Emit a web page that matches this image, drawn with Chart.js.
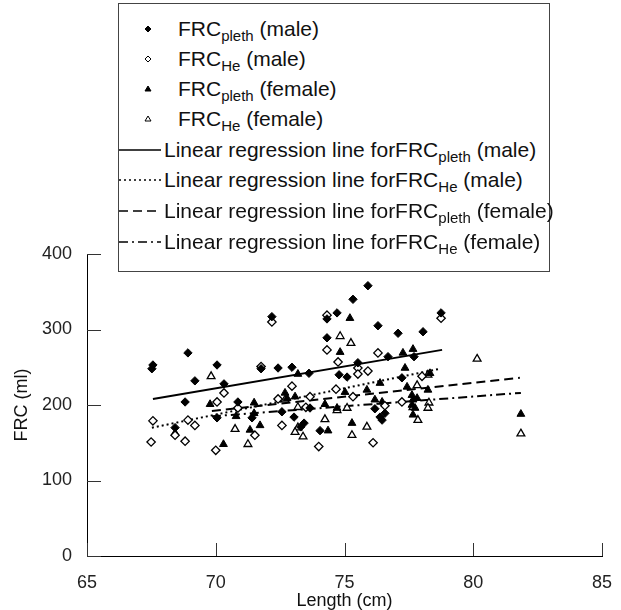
<!DOCTYPE html>
<html>
<head>
<meta charset="utf-8">
<script src="https://cdn.jsdelivr.net/npm/chart.js@4/dist/chart.umd.min.js"></script>
<style>
	html, body { margin: 0; padding: 0; background: #fff; }
	#wrap { position: relative; width: 621px; height: 610px; }
	#legend {
		position: absolute; left: 118px; top: 3px; width: 430px; height: 267px;
		border: 1px solid #444; background: #fff; color: #111;
		font-family: "Liberation Sans", Arial, sans-serif; font-size: 21px;
	}
	.row { position: absolute; left: 0; height: 24px; line-height: 24px; white-space: nowrap; }
	.row svg { position: absolute; left: 0; top: 2px; }
	.row span { position: absolute; top: 0; }
	sub { font-size: 15px; vertical-align: -5px; line-height: 0; }
</style>
</head>
<body>
<div id="wrap">
	<canvas id="chart" width="621" height="610"></canvas>
	<div id="legend"></div>
</div>
<script>
// --- data (length in cm, FRC in ml) -------------------------------------------

const malePlethLen = [67.56, 67.52, 68.92, 70.05, 69.19, 70.32, 68.81, 70.05, 70.86, 71.41,
	71.76, 72.18, 72.42, 72.96, 73.62, 72.57, 74.32, 74.71, 75.33, 75.91,
	76.30, 77.08, 78.05, 78.75, 74.32, 74.79, 75.10, 75.52, 76.69, 77.70,
	73.04, 73.43, 73.66, 74.05, 76.18, 76.38, 76.57, 76.46, 77.23, 68.42, 73.30];
const malePlethFrc = [253, 248, 269, 253, 232, 228, 204, 183, 204, 183,
	248, 317, 249, 250, 242, 191, 314, 322, 340, 358,
	305, 295, 297, 322, 289, 240, 237, 256, 264, 264,
	184, 176, 196, 166, 195, 184, 189, 180, 236, 170, 171];

const maleHeLen = [67.56, 67.49, 68.92, 69.19, 68.42, 68.81, 70.32, 70.05, 70.86, 71.52,
	72.57, 71.76, 72.42, 72.18, 74.32, 74.32, 76.30, 72.96, 73.66, 74.75,
	75.52, 75.52, 75.91, 74.67, 75.33, 73.50, 76.57, 77.23, 76.11, 78.01,
	78.75, 70.00, 74.00];
const maleHeFrc = [179, 151, 180, 173, 160, 152, 216, 204, 196, 160,
	173, 251, 208, 310, 319, 273, 269, 225, 211, 257,
	249, 241, 245, 221, 211, 197, 199, 204, 150, 238,
	315, 140, 145];

const femPlethLen = [69.78, 71.49, 70.79, 71.49, 71.72, 68.42, 75.21, 74.83, 77.27, 77.66,
	73.19, 75.02, 75.87, 76.38, 77.35, 77.43, 76.18, 76.46, 74.24, 74.71,
	77.62, 77.66, 77.82, 77.62, 77.74, 77.66, 75.29, 74.36, 72.77, 73.08,
	71.33, 72.69, 70.30, 78.32, 78.24, 81.85];
const femPlethFrc = [201, 203, 185, 189, 173, 163, 315, 270, 269, 274,
	241, 217, 220, 229, 249, 224, 207, 204, 201, 196,
	213, 207, 209, 200, 196, 187, 176, 166, 209, 211,
	167, 216, 148, 242, 220, 188];

const femHeLen = [69.82, 74.83, 75.25, 70.75, 72.69, 71.25, 73.19, 74.24, 73.19, 73.08,
	73.39, 75.29, 75.87, 74.71, 75.10, 77.82, 77.66, 77.85, 78.24, 78.28,
	78.24, 80.15, 81.85];
const femHeFrc = [238, 291, 282, 168, 207, 148, 197, 181, 170, 164,
	158, 160, 171, 193, 196, 226, 197, 180, 240, 203,
	196, 261, 162];

// regression lines: [start, end]
const regPlethMaleLen = [67.56, 78.79], regPlethMaleFrc = [208, 273];
const regHeMaleLen    = [67.52, 78.71], regHeMaleFrc    = [170, 248];
const regPlethFemLen  = [69.85, 81.81], regPlethFemFrc  = [192, 236];
const regHeFemLen     = [69.85, 81.85], regHeFemFrc     = [185, 216];

const xTicks = [65, 70, 75, 80, 85];
const yTicks = [0, 100, 200, 300, 400];

// --- helpers -----------------------------------------------------------------

function pts(xs, ys) { return xs.map((x, i) => ({ x, y: ys[i] })); }

function scatterSet(label, xs, ys, style, filled) {
	return {
		label, data: pts(xs, ys), pointStyle: style,
		pointRadius: style === 'triangle' ? 4.5 : 4.2,
		pointBackgroundColor: filled ? '#000' : '#fff',
		pointBorderColor: '#000', pointBorderWidth: filled ? 1 : 1.3,
		showLine: false, order: 1
	};
}

function lineSet(label, xs, ys, dash) {
	return {
		label, data: pts(xs, ys), showLine: true, pointRadius: 0,
		borderColor: '#000', borderWidth: 2, borderDash: dash, fill: false, order: 2
	};
}

// tick marks pointing into the plot area
const innerTicks = {
	id: 'innerTicks',
	beforeDatasetsDraw(chart) {
		const { ctx, chartArea: a } = chart;
		const x = chart.scales.x, y = chart.scales.y;
		ctx.save();
		ctx.strokeStyle = '#333';
		ctx.lineWidth = 1;
		ctx.beginPath();
		x.ticks.forEach(t => {
			const px = Math.round(x.getPixelForValue(t.value)) + 0.5;
			ctx.moveTo(px, a.bottom); ctx.lineTo(px, a.bottom - 13);
		});
		y.ticks.forEach(t => {
			const py = Math.round(y.getPixelForValue(t.value)) + 0.5;
			ctx.moveTo(a.left, py); ctx.lineTo(a.left + 14, py);
		});
		ctx.stroke();
		ctx.restore();
	}
};

Chart.defaults.font.family = '"Liberation Sans", Arial, sans-serif';
Chart.defaults.color = '#111';

new Chart(document.getElementById('chart'), {
	type: 'scatter',
	data: {
		datasets: [
			scatterSet('FRC pleth (male)', malePlethLen, malePlethFrc, 'rectRot', true),
			scatterSet('FRC He (male)', maleHeLen, maleHeFrc, 'rectRot', false),
			scatterSet('FRC pleth (female)', femPlethLen, femPlethFrc, 'triangle', true),
			scatterSet('FRC He (female)', femHeLen, femHeFrc, 'triangle', false),
			lineSet('Linear regression line forFRC pleth (male)', regPlethMaleLen, regPlethMaleFrc, []),
			lineSet('Linear regression line forFRC He (male)', regHeMaleLen, regHeMaleFrc, [2, 3]),
			lineSet('Linear regression line forFRC pleth (female)', regPlethFemLen, regPlethFemFrc, [9, 5]),
			lineSet('Linear regression line forFRC He (female)', regHeFemLen, regHeFemFrc, [9, 4, 2, 4])
		]
	},
	options: {
		responsive: false, animation: false,
		layout: { padding: { top: 254, right: 19, left: 0, bottom: 0 } },
		plugins: { legend: { display: false }, tooltip: { enabled: false } },
		scales: {
			x: {
				type: 'linear', min: 65, max: 85,
				afterBuildTicks: s => { s.ticks = xTicks.map(v => ({ value: v })); },
				afterFit: s => { s.height = 54; },
				grid: { display: false },
				border: { display: true, color: '#000', width: 1 },
				ticks: { font: { size: 18 }, color: '#222', padding: 8 },
				title: { display: true, text: 'Length (cm)', font: { size: 18, lineHeight: 1 }, color: '#111', padding: 0 }
			},
			y: {
				type: 'linear', min: 0, max: 400,
				afterBuildTicks: s => { s.ticks = yTicks.map(v => ({ value: v })); },
				afterFit: s => { s.width = 87; },
				grid: { display: false },
				border: { display: true, color: '#000', width: 1 },
				ticks: { font: { size: 18 }, color: '#222', padding: 7 },
				title: { display: true, text: 'FRC (ml)', font: { size: 18, lineHeight: 1 }, color: '#111', padding: { top: 13, bottom: 0 } }
			}
		}
	},
	plugins: [innerTicks]
});

// --- legend (HTML so sub-scripts stay real text) -----------------------------

const legendRows = [
	{ kind: 'marker', mark: 'diamond', fill: true,  base: 'FRC', sub: 'pleth', tail: ' (male)' },
	{ kind: 'marker', mark: 'diamond', fill: false, base: 'FRC', sub: 'He',    tail: ' (male)' },
	{ kind: 'marker', mark: 'tri',     fill: true,  base: 'FRC', sub: 'pleth', tail: ' (female)' },
	{ kind: 'marker', mark: 'tri',     fill: false, base: 'FRC', sub: 'He',    tail: ' (female)' },
	{ kind: 'line', dash: '',        base: 'Linear regression line forFRC', sub: 'pleth', tail: ' (male)' },
	{ kind: 'line', dash: '2 3',     base: 'Linear regression line forFRC', sub: 'He',    tail: ' (male)' },
	{ kind: 'line', dash: '9 5',     base: 'Linear regression line forFRC', sub: 'pleth', tail: ' (female)' },
	{ kind: 'line', dash: '9 4 2 4', base: 'Linear regression line forFRC', sub: 'He',    tail: ' (female)' }
];
const rowCenters = [25, 55, 85, 115, 146, 176, 207, 238];

const legend = document.getElementById('legend');
const NS = 'http://www.w3.org/2000/svg';
legendRows.forEach((r, i) => {
	const row = document.createElement('div');
	row.className = 'row';
	row.style.top = (rowCenters[i] - 12) + 'px';

	const svg = document.createElementNS(NS, 'svg');
	svg.setAttribute('width', '46'); svg.setAttribute('height', '20');
	let shape;
	if (r.kind === 'line') {
		shape = document.createElementNS(NS, 'line');
		shape.setAttribute('x1', '0'); shape.setAttribute('x2', '42');
		shape.setAttribute('y1', '10'); shape.setAttribute('y2', '10');
		shape.setAttribute('stroke', '#000'); shape.setAttribute('stroke-width', '1.6');
		if (r.dash) shape.setAttribute('stroke-dasharray', r.dash);
	} else {
		shape = document.createElementNS(NS, 'polygon');
		shape.setAttribute('points', r.mark === 'diamond' ? '29,7 32,10 29,13 26,10' : '29,7 32,12 26,12');
		shape.setAttribute('fill', r.fill ? '#000' : '#fff');
		shape.setAttribute('stroke', '#000'); shape.setAttribute('stroke-width', '1');
	}
	svg.appendChild(shape);
	row.appendChild(svg);

	const text = document.createElement('span');
	text.style.left = (r.kind === 'line' ? 45 : 59) + 'px';
	text.appendChild(document.createTextNode(r.base));
	const sub = document.createElement('sub');
	sub.textContent = r.sub;
	text.appendChild(sub);
	text.appendChild(document.createTextNode(r.tail));
	row.appendChild(text);

	legend.appendChild(row);
});
</script>
</body>
</html>
